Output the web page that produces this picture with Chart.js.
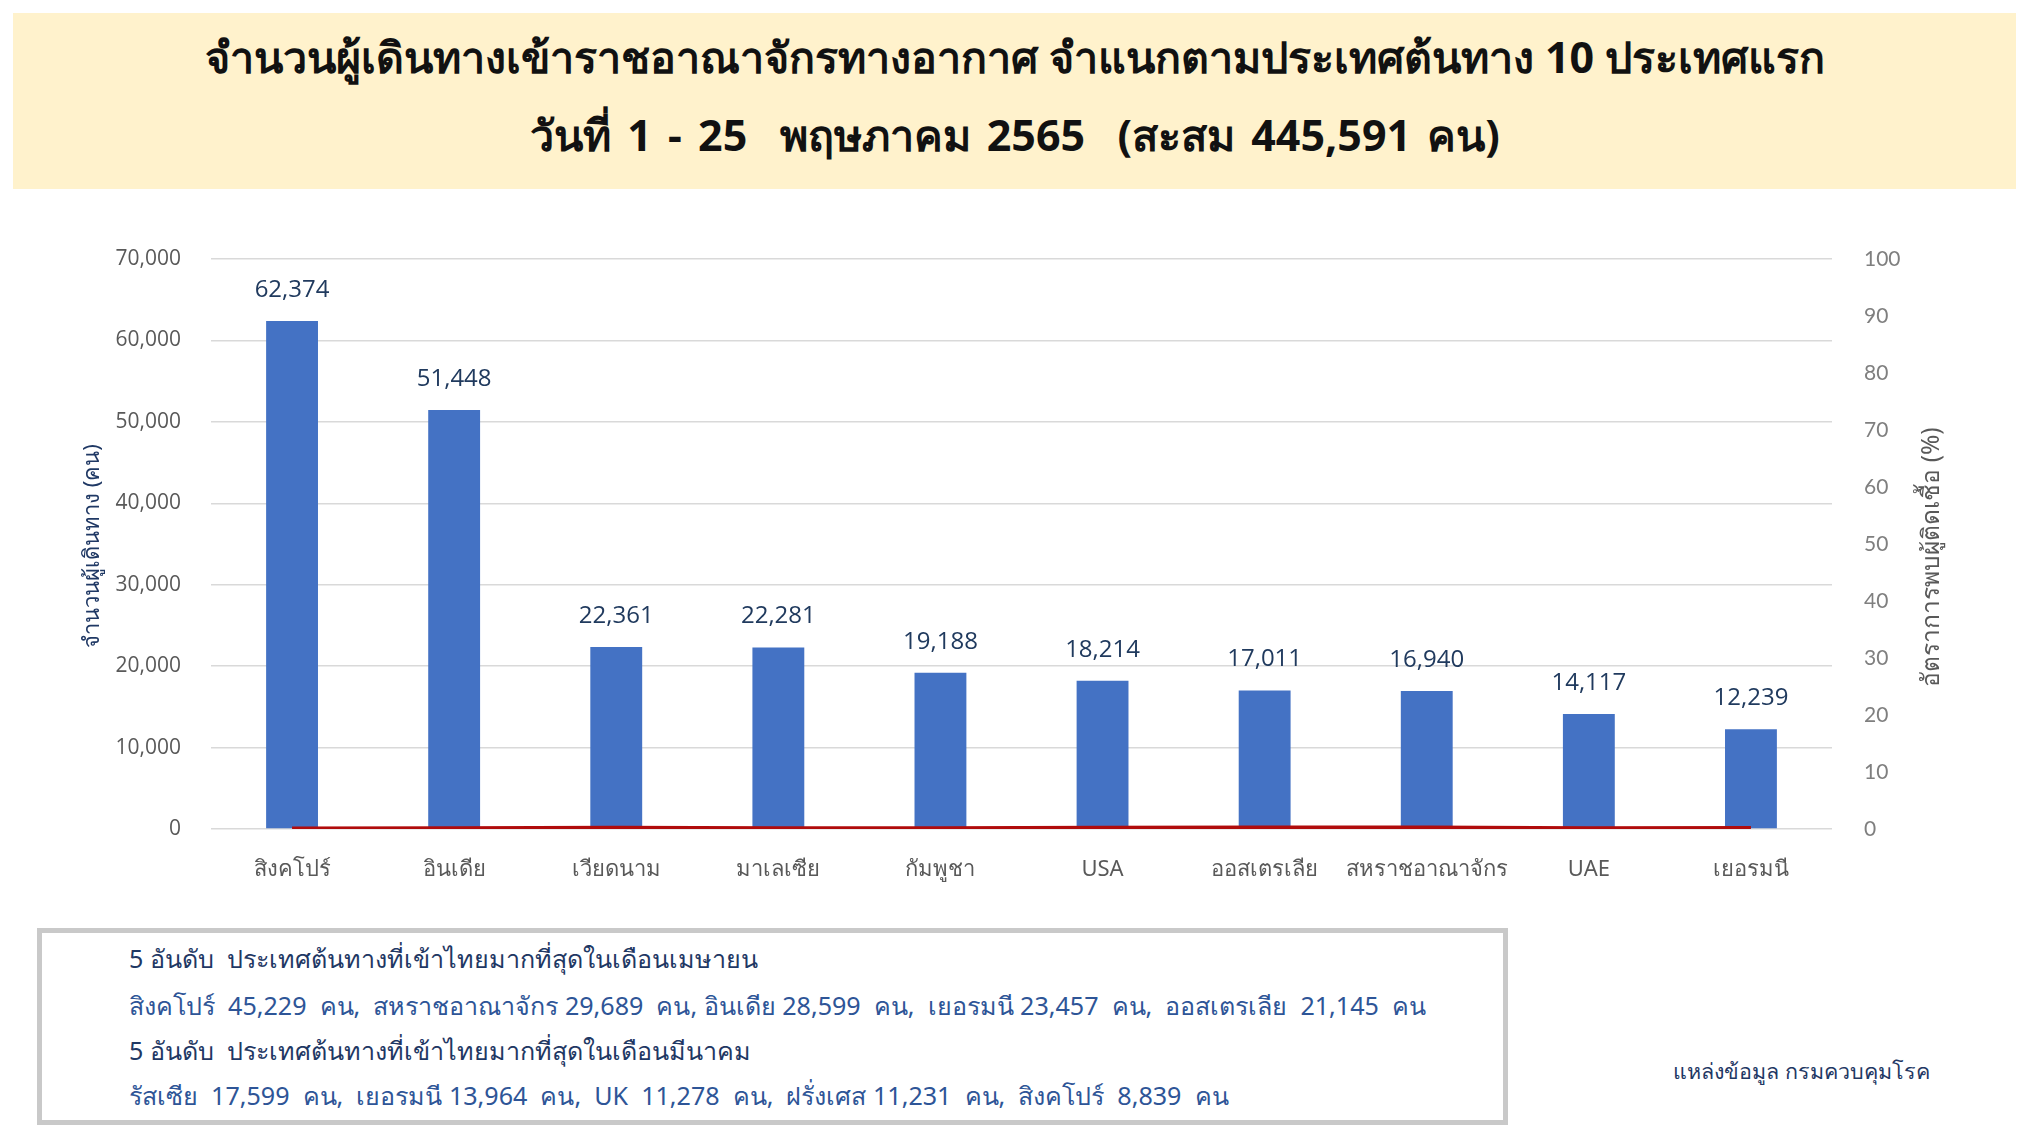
<!DOCTYPE html>
<html>
<head>
<meta charset="utf-8">
<script src="https://cdn.jsdelivr.net/npm/chart.js@4.4.0/dist/chart.umd.min.js"></script>
<style>
    body { margin: 0; width: 2030px; height: 1142px; position: relative; background: #fff; overflow: hidden; font-family: "Noto Sans", sans-serif; }
    .banner { position: absolute; left: 13px; top: 13px; width: 2003px; height: 176px; background: #fff2cc; }
    .title { position: absolute; left: 0; width: 2030px; text-align: center; font-size: 43px; font-weight: bold; color: #111; line-height: 1; white-space: pre; }
    #chartWrap { position: absolute; left: 0; top: 190px; width: 2030px; height: 720px; }
    .note { position: absolute; left: 37px; top: 928px; width: 1471px; height: 197px; box-sizing: border-box; border: 5px solid #c9c9c9; }
    .line { position: absolute; left: 129px; font-size: 25.1px; line-height: 1; white-space: pre; }
    .dark { color: #1f3864; }
    .blue { color: #2e5597; }
    .source { position: absolute; left: 1673px; top: 1060px; font-size: 21.5px; color: #1f3864; line-height: 1; }
</style>
</head>
<body>
<div class="banner"></div>
<div class="title" style="top:35px">จำนวนผู้เดินทางเข้าราชอาณาจักรทางอากาศ จำแนกตามประเทศต้นทาง 10 ประเทศแรก</div>
<div class="title" style="top:113px; word-spacing:5px">วันที่ 1 - 25  พฤษภาคม 2565  (สะสม 445,591 คน)</div>

<div id="chartWrap"><canvas id="tourChart" width="2030" height="720"></canvas></div>

<div class="note"></div>
<div class="line dark" style="top:946px">5 อันดับ  ประเทศต้นทางที่เข้าไทยมากที่สุดในเดือนเมษายน</div>
<div class="line blue" style="top:993px">สิงคโปร์  45,229  คน,  สหราชอาณาจักร 29,689  คน, อินเดีย 28,599  คน,  เยอรมนี 23,457  คน,  ออสเตรเลีย  21,145  คน</div>
<div class="line dark" style="top:1038px">5 อันดับ  ประเทศต้นทางที่เข้าไทยมากที่สุดในเดือนมีนาคม</div>
<div class="line blue" style="top:1083px">รัสเซีย  17,599  คน,  เยอรมนี 13,964  คน,  UK  11,278  คน,  ฝรั่งเศส 11,231  คน,  สิงคโปร์  8,839  คน</div>
<div class="source">แหล่งข้อมูล กรมควบคุมโรค</div>

<script>
// Data
const countries = ['สิงคโปร์', 'อินเดีย', 'เวียดนาม', 'มาเลเซีย', 'กัมพูชา', 'USA', 'ออสเตรเลีย', 'สหราชอาณาจักร', 'UAE', 'เยอรมนี'];
const passengers = [62374, 51448, 22361, 22281, 19188, 18214, 17011, 16940, 14117, 12239];
const infectionRate = [0.02, 0.03, 0.15, 0.05, 0.03, 0.12, 0.18, 0.17, 0.06, 0.1];
const passengerMax = 70000;
const passengerStep = 10000;
const rateMax = 100;
const rateStep = 10;
const leftTitle = 'จำนวนผู้เดินทาง (คน)';
const rightTitle = 'อัตราการพบผู้ติดเชื้อ (%)';

const fmt = v => Number(v).toLocaleString('en-US');

// value labels above the bars + rotated axis titles
const extrasPlugin = {
    id: 'extras',
    afterDatasetsDraw(chart) {
        const ctx = chart.ctx;
        const meta = chart.getDatasetMeta(1);
        ctx.save();
        ctx.font = '24px "Open Sans"';
        ctx.fillStyle = '#203a5e';
        ctx.textAlign = 'center';
        ctx.textBaseline = 'middle';
        meta.data.forEach((bar, i) => {
            ctx.fillText(fmt(passengers[i]), bar.x, bar.y - 31);
        });
        ctx.restore();

        ctx.save();
        ctx.font = '22px "Noto Sans"';
        ctx.textAlign = 'center';
        ctx.textBaseline = 'middle';
        ctx.fillStyle = '#1f3864';
        ctx.translate(93, 356);
        ctx.rotate(-Math.PI / 2);
        ctx.fillText(leftTitle, 0, 0);
        ctx.restore();

        ctx.save();
        ctx.font = '24.5px "Noto Sans"';
        ctx.textAlign = 'center';
        ctx.textBaseline = 'middle';
        ctx.fillStyle = '#595959';
        ctx.translate(1932, 367);
        ctx.rotate(-Math.PI / 2);
        ctx.fillText(rightTitle, 0, 0);
        ctx.restore();
    }
};

const ctx = document.getElementById('tourChart').getContext('2d');
new Chart(ctx, {
    type: 'bar',
    data: {
        labels: countries,
        datasets: [
            {
                type: 'line',
                label: 'อัตราการพบผู้ติดเชื้อ',
                data: infectionRate,
                yAxisID: 'y1',
                borderColor: '#b00c0c',
                borderWidth: 5,
                pointRadius: 0,
                tension: 0,
                fill: false,
                order: 0
            },
            {
                type: 'bar',
                label: 'จำนวนผู้เดินทาง',
                data: passengers,
                yAxisID: 'y',
                backgroundColor: '#4472c4',
                barPercentage: 0.32,
                categoryPercentage: 1,
                order: 1
            }
        ]
    },
    options: {
        responsive: false,
        animation: false,
        layout: {
            padding: { top: 69, left: 0, right: 0, bottom: 0 }
        },
        plugins: {
            legend: { display: false },
            title: { display: false },
            tooltip: { enabled: false }
        },
        scales: {
            x: {
                grid: { display: false },
                border: { display: false },
                ticks: {
                    color: '#595959',
                    font: { size: 22, family: 'Noto Sans' },
                    padding: 20,
                    autoSkip: false,
                    maxRotation: 0
                },
                afterFit(scale) { scale.height = 81; }
            },
            y: {
                position: 'left',
                min: 0,
                max: passengerMax,
                border: { display: false },
                grid: { color: '#d9d9d9', lineWidth: 1.5, drawTicks: false },
                ticks: {
                    stepSize: passengerStep,
                    color: '#595959',
                    font: { size: 21, family: 'Open Sans' },
                    padding: 30,
                    callback: v => fmt(v)
                },
                afterFit(scale) { scale.width = 211; }
            },
            y1: {
                position: 'right',
                min: 0,
                max: rateMax,
                border: { display: false },
                grid: { display: false, drawTicks: false },
                ticks: {
                    stepSize: rateStep,
                    color: '#7f7f7f',
                    font: { size: 21, family: 'Lato' },
                    padding: 32
                },
                afterFit(scale) { scale.width = 198; }
            }
        }
    },
    plugins: [extrasPlugin]
});
</script>
</body>
</html>
